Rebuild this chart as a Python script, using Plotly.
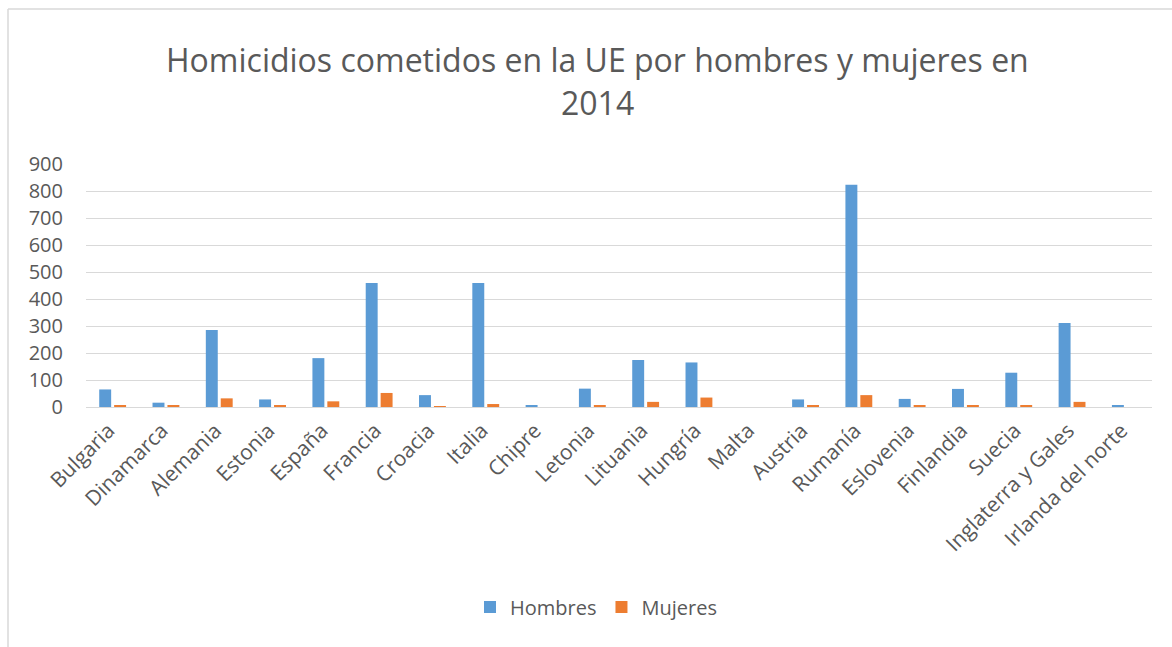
import plotly.graph_objects as go

paises = ["Bulgaria", "Dinamarca", "Alemania", "Estonia", "España", "Francia", "Croacia",
          "Italia", "Chipre", "Letonia", "Lituania", "Hungría", "Malta", "Austria",
          "Rumanía", "Eslovenia", "Finlandia", "Suecia", "Inglaterra y Gales",
          "Irlanda del norte"]
hombres = [65, 16, 285, 28, 181, 459, 44, 459, 4, 68, 174, 165, 0, 28, 823, 30, 67, 127, 311, 7]
mujeres = [7, 4, 32, 4, 21, 52, 2, 11, 0, 4, 19, 35, 0, 4, 44, 4, 7, 7, 19, 0]
ytick_vals = [0, 100, 200, 300, 400, 500, 600, 700, 800, 900]

W, H = 1172, 647
L, R, T, B = 86, 20, 164, 240
pw, ph = W - L - R, H - T - B

def px(x):
    return (x - L) / pw

def py(y):
    return (H - B - y) / ph

FONT = "Open Sans"
GREY = "#595959"

fig = go.Figure()
fig.add_trace(go.Bar(name="Hombres", x=paises, y=hombres, marker_color="#5B9BD5",
                     marker_line_width=0))
fig.add_trace(go.Bar(name="Mujeres", x=paises, y=mujeres, marker_color="#ED7D31",
                     marker_line_width=0))

fig.update_layout(
    width=W, height=H,
    margin=dict(l=L, r=R, t=T, b=B),
    paper_bgcolor="white", plot_bgcolor="white",
    barmode="group", bargap=0.44, bargroupgap=0.2,
    font=dict(family=FONT, color=GREY, size=20),
    showlegend=True,
    legend=dict(orientation="h", x=px(596), y=py(607), xanchor="center", yanchor="middle",
                font=dict(size=20, color=GREY), traceorder="normal"),
    xaxis=dict(tickangle=-45, tickfont=dict(size=21, color=GREY), showgrid=False,
               showline=True, linecolor="#D9D9D9", linewidth=1, ticks="",
               ticklabelshift=-4, ticklabelstandoff=2),
    yaxis=dict(range=[0, 900], tickvals=ytick_vals, showgrid=True, gridcolor="#D9D9D9",
               gridwidth=1, zeroline=False, showline=False,
               tickfont=dict(size=20, color=GREY), ticks="", ticklabelstandoff=22),
    annotations=[
        dict(text="Homicidios cometidos en la UE por hombres y mujeres en", xref="paper", yref="paper",
             x=px(597), y=py(60), xanchor="center", yanchor="middle", showarrow=False,
             font=dict(size=32, color=GREY, family=FONT)),
        dict(text="2014", xref="paper", yref="paper",
             x=px(597), y=py(103), xanchor="center", yanchor="middle", showarrow=False,
             font=dict(size=32, color=GREY, family=FONT)),
    ],
    shapes=[
        dict(type="line", xref="paper", yref="paper", x0=px(8), x1=px(1172), y0=py(9), y1=py(9),
             line=dict(color="#D9D9D9", width=1.5)),
        dict(type="line", xref="paper", yref="paper", x0=px(8), x1=px(8), y0=py(9), y1=py(647),
             line=dict(color="#D9D9D9", width=1.5)),
    ],
)

fig.write_html("out.html", config={"displayModeBar": False},
               post_script="document.body.style.margin='0';document.body.style.overflow='hidden';")
